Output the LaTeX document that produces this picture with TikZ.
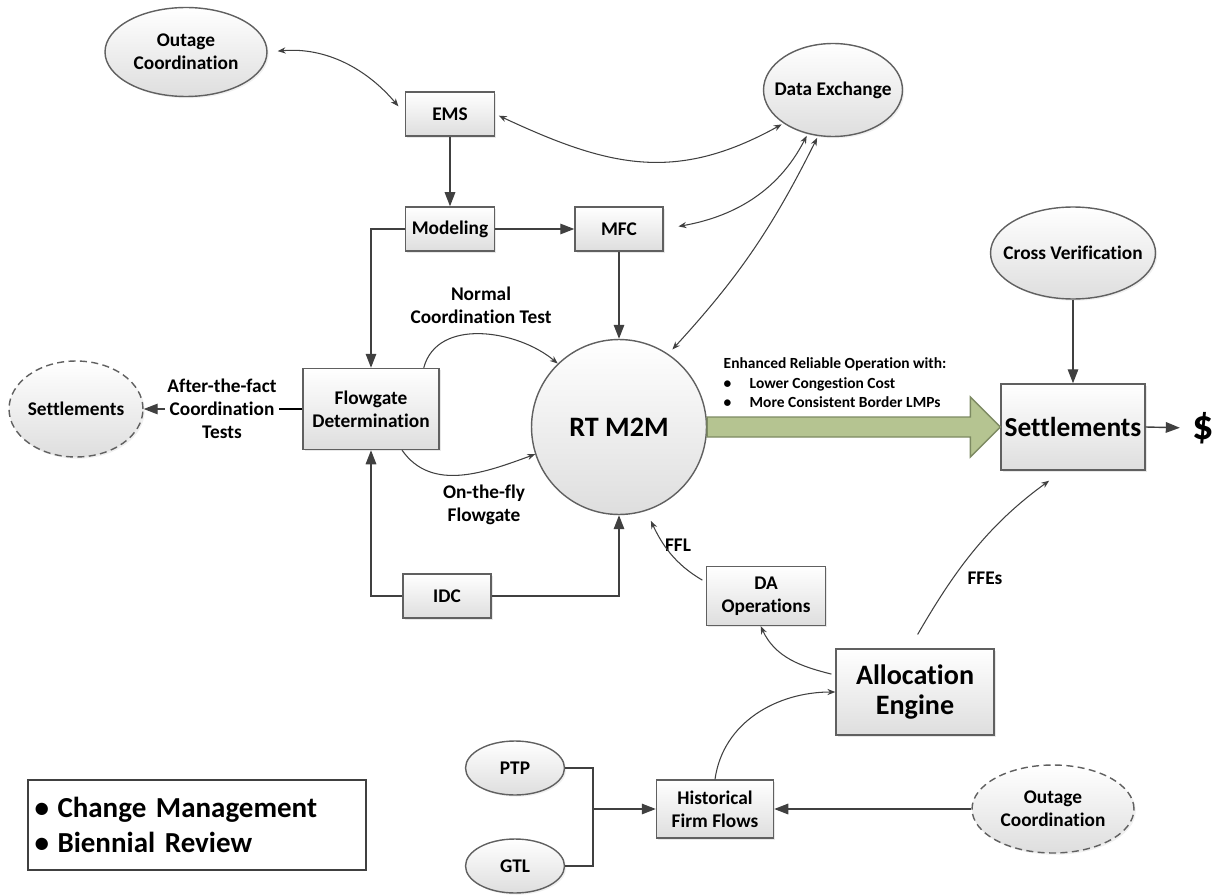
\documentclass[tikz,border=0pt]{standalone}
\usepackage{fontspec}
\setmainfont{Carlito}[Ligatures=NoCommon]
\usetikzlibrary{arrows.meta,shapes.geometric,calc,shadows}
\definecolor{linegray}{RGB}{64,64,64}
\definecolor{boxgray}{RGB}{96,96,96}
\definecolor{fillgray}{RGB}{222,222,222}
\definecolor{arrowgreen}{RGB}{181,196,145}
\definecolor{arrowedge}{RGB}{125,138,98}
\begin{document}
\begin{tikzpicture}[x=0.02cm, y=0.02cm, >=Stealth, line width=0.8pt,
  txt/.style={font=\bfseries\fontsize{11}{13.2}\selectfont, align=center},
  box/.style={txt, draw=boxgray, top color=white, bottom color=fillgray, inner sep=2pt,
    drop shadow={shadow xshift=1pt, shadow yshift=-1pt, opacity=0.18}},
  oval/.style={ellipse, draw=boxgray, top color=white, bottom color=fillgray, inner sep=0pt,
    drop shadow={shadow xshift=1pt, shadow yshift=-1pt, opacity=0.12}},
  dashoval/.style={oval, dashed, dash pattern=on 4pt off 2.5pt},
  lbl/.style={txt, inner sep=1pt},
  big/.style={draw=linegray, -{Triangle[length=8pt,width=6pt]}},
  thinarrow/.style={draw=linegray, line width=0.6pt, -{Stealth[length=4.5pt,width=3.5pt]}},
  twoway/.style={thinarrow, {Stealth[length=4.5pt,width=3.5pt]}-{Stealth[length=4.5pt,width=3.5pt]}}]
\useasboundingbox (0,0) rectangle (1220,-895);

\node[oval, minimum width=3.24cm, minimum height=1.78cm, label={[txt]center:Outage\\Coordination}] (outA) at (186,-52) {};
\node[box, minimum width=1.78cm, minimum height=0.88cm] (ems) at (450,-114) {EMS};
\node[oval, minimum width=2.78cm, minimum height=1.86cm, label={[txt]center:Data Exchange}] (dex) at (833,-90) {};
\node[box, minimum width=1.78cm, minimum height=0.88cm] (model) at (450,-229) {Modeling};
\node[box, minimum width=1.76cm, minimum height=0.88cm] (mfc) at (619,-229) {MFC};
\node[oval, minimum width=3.30cm, minimum height=1.84cm, label={[txt]center:Cross Verification}] (cross) at (1073,-253) {};
\node[box, minimum width=2.72cm, minimum height=1.62cm] (flow) at (371,-409) {Flowgate\\Determination};
\node[dashoval, minimum width=2.68cm, minimum height=1.92cm, label={[txt]center:Settlements}] (setL) at (76,-409) {};
\node[circle, draw=boxgray, top color=white, bottom color=fillgray, minimum size=3.5cm, inner sep=0pt,
  font=\bfseries\fontsize{16}{19}\selectfont] (m2m) at (619,-427) {RT M2M};
\node[box, minimum width=2.76cm, minimum height=1.72cm, font=\fontsize{15.6}{18}\selectfont\bfseries] (settle) at (1073,-427) {Settlements};
\node[font=\bfseries\fontsize{24}{28}\selectfont, inner sep=1pt] (dollar) at (1203,-428) {\$};
\node[box, minimum width=1.76cm, minimum height=0.88cm] (idc) at (447,-596) {IDC};
\node[box, minimum width=2.38cm, minimum height=1.18cm] (da) at (766,-596) {DA\\Operations};
\node[box, minimum width=3.16cm, minimum height=1.72cm, font=\bfseries\fontsize{16}{17.6}\selectfont] (alloc) at (915,-692) {Allocation\\Engine};
\node[box, minimum width=2.34cm, minimum height=1.16cm] (hist) at (715,-809) {Historical\\Firm Flows};
\node[oval, minimum width=1.98cm, minimum height=1.08cm, label={[txt]center:PTP}] (ptp) at (515,-768) {};
\node[oval, minimum width=1.98cm, minimum height=1.08cm, label={[txt]center:GTL}] (gtl) at (515,-866) {};
\node[dashoval, minimum width=3.24cm, minimum height=1.76cm, label={[txt]center:Outage\\Coordination}] (outB) at (1053,-809) {};
\node[draw=linegray, line width=1.2pt, minimum width=6.76cm, minimum height=1.8cm, text width=6.5cm, align=left,
  font=\bfseries\fontsize{16.5}{19.5}\selectfont] (legend) at (197,-825)
  {\makebox[0.46cm][l]{•}Change Management\\\makebox[0.46cm][l]{•}Biennial Review};

\node[lbl] (aft) at (222,-409) {After-the-fact\\Coordination\\Tests};
\node[lbl] (nct) at (481,-305) {Normal\\Coordination Test};
\node[lbl] (otf) at (484,-505) {On-the-fly\\Flowgate};
\node[lbl] (ffl) at (678,-545) {FFL};
\node[lbl] (ffe) at (985,-578) {FFEs};
\node[anchor=north west, align=left, inner sep=0pt, font=\bfseries\fontsize{8.8}{11.1}\selectfont] (gain) at (723,-357)
  {Enhanced Reliable Operation with:\\\makebox[0.52cm][l]{•}Lower Congestion Cost\\\makebox[0.52cm][l]{•}More Consistent Border LMPs};

\filldraw[fill=arrowgreen, draw=arrowedge] ($(m2m.east)+(0,10)$) -- ($(settle.west)+(-30,10)$) -- ($(settle.west)+(-30,30)$)
  -- (settle.west) -- ($(settle.west)+(-30,-30)$) -- ($(settle.west)+(-30,-10)$) -- ($(m2m.east)+(0,-10)$) -- cycle;

\draw [big] (ems) -- (model);
\draw [big] (model) -- (mfc);
\draw [big] (mfc) -- (m2m);
\draw [big] (model.west) -| (flow.north);
\draw [big] (idc.west) -| (flow.south);
\draw [big] (idc.east) -| (m2m.south);
\draw (flow.west) -- (aft.east);
\draw [big] (aft.west) -- (setL.east);
\draw [big] (cross) -- (settle);
\draw [big, shorten >=0.2cm] (settle.east) -- (dollar.west);
\coordinate (jn) at (593,-809);
\draw [draw=linegray] (ptp.east) -| (jn) |- (gtl.east);
\draw [big] (jn) -- (hist.west);
\draw [big] (outB.west) -- (hist.east);

\draw [twoway, shorten <=0.2cm, shorten >=0.2cm] (outA.east) to[out=5, in=130] (ems.west);
\draw [twoway, shorten <=0.08cm, shorten >=0.04cm] (ems.east) to[out=-25, in=209, looseness=1.1] (dex.214);
\draw [twoway, shorten <=0.3cm, shorten >=0.04cm] (mfc.east) to[out=10, in=243] (dex.240);
\draw [twoway, shorten <=0.04cm, shorten >=0.12cm] (dex.252) to[bend left=8] (m2m.56);
\draw [thinarrow] (flow.38) to[out=75, in=140] (m2m.134);
\draw [thinarrow] (flow.-53) to[out=-55, in=200] (m2m.198);
\draw [thinarrow, shorten <=0.08cm, shorten >=0.22cm] (da.167) to[out=150, in=-65] (m2m.-72);
\draw [thinarrow, shorten <=0.08cm] (alloc.168) to[out=166, in=-65] (da.-100);
\draw [thinarrow] (hist.north) to[out=82, in=180] (alloc.west);
\draw [thinarrow, shorten <=0.32cm, shorten >=0.34cm] (alloc.97) to[out=60, in=216] (settle.-103);
\end{tikzpicture}
\end{document}
